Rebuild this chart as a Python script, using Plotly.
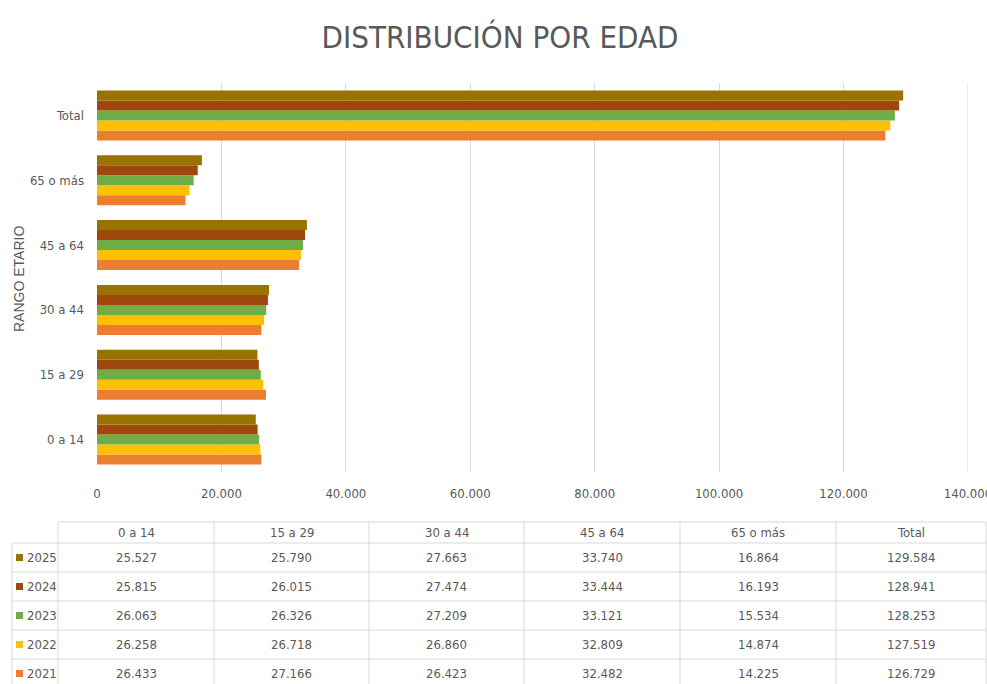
import plotly.graph_objects as go

categories = ["0 a 14", "15 a 29", "30 a 44", "45 a 64", "65 o más", "Total"]
years = ["2021", "2022", "2023", "2024", "2025"]
values = {
    "2021": [26433, 27166, 26423, 32482, 14225, 126729],
    "2022": [26258, 26718, 26860, 32809, 14874, 127519],
    "2023": [26063, 26326, 27209, 33121, 15534, 128253],
    "2024": [25815, 26015, 27474, 33444, 16193, 128941],
    "2025": [25527, 25790, 27663, 33740, 16864, 129584],
}
colors = {
    "2021": "#ED7D31",
    "2022": "#FFC000",
    "2023": "#70AD47",
    "2024": "#9E480E",
    "2025": "#997300",
}
x_ticks = [0, 20000, 40000, 60000, 80000, 100000, 120000, 140000]

FONT = "Liberation Sans Narrow, DejaVu Sans Condensed, Arial Narrow, sans-serif"
TXT = "#595959"

W, H = 987, 684
L, R, T, B = 97, 968, 83, 472

def px(x):
    return (x - L) / (R - L)

def py(y):
    return (B - y) / (B - T)

fig = go.Figure()
for yr in years:
    fig.add_trace(go.Bar(
        y=categories, x=values[yr], name=yr, orientation="h",
        marker=dict(color=colors[yr], line=dict(width=0)),
    ))

shapes = []
ann = []

# last gridline at the right edge of the plot area
shapes.append(dict(type="line", xref="x", yref="paper",
                   x0=x_ticks[-1], x1=x_ticks[-1], y0=0, y1=1, layer="below",
                   line=dict(color="#d9d9d9", width=1)))

# table geometry
col_edges = [58, 214, 369, 524, 680, 836, 986]
row_lines = [522, 543, 572, 601, 630, 659, 688]
line_col = "#d9d9d9"
for i, yv in enumerate(row_lines):
    x0 = 58 if i == 0 else 12
    shapes.append(dict(type="line", xref="paper", yref="paper",
                       x0=px(x0), x1=px(986), y0=py(yv), y1=py(yv),
                       line=dict(color=line_col, width=1)))
shapes.append(dict(type="line", xref="paper", yref="paper",
                   x0=px(12), x1=px(12), y0=py(543), y1=py(688),
                   line=dict(color=line_col, width=1)))
for xv in col_edges:
    shapes.append(dict(type="line", xref="paper", yref="paper",
                       x0=px(xv), x1=px(xv), y0=py(522), y1=py(688),
                       line=dict(color=line_col, width=1)))

for j, c in enumerate(categories):
    xc = (col_edges[j] + col_edges[j + 1]) / 2
    ann.append(dict(x=px(xc), y=py(532), xref="paper", yref="paper",
                    text=c, showarrow=False, xanchor="center", yanchor="middle",
                    font=dict(family=FONT, size=13, color=TXT)))

for i, yr in enumerate(reversed(years)):
    yc = (row_lines[i + 1] + row_lines[i + 2]) / 2
    shapes.append(dict(type="rect", xref="paper", yref="paper",
                       x0=px(16), x1=px(23), y0=py(yc - 3.5), y1=py(yc + 3.5),
                       fillcolor=colors[yr], line=dict(width=0)))
    ann.append(dict(x=px(25), y=py(yc), xref="paper", yref="paper",
                    text=yr, showarrow=False, xanchor="left", yanchor="middle",
                    font=dict(family=FONT, size=13, color=TXT)))
    for j, v in enumerate(values[yr]):
        xc = (col_edges[j] + col_edges[j + 1]) / 2
        ann.append(dict(x=px(xc), y=py(yc), xref="paper", yref="paper",
                        text=f"{v:,}".replace(",", "."), showarrow=False,
                        xanchor="center", yanchor="middle",
                        font=dict(family=FONT, size=13, color=TXT)))

ann.append(dict(x=px(19), y=py(279), xref="paper", yref="paper",
                text="RANGO ETARIO", textangle=-90, showarrow=False,
                xanchor="center", yanchor="middle",
                font=dict(family="Liberation Sans, Arial, sans-serif", size=14, color=TXT)))

fig.update_layout(
    width=W, height=H,
    margin=dict(l=L, r=W - R, t=T, b=H - B, autoexpand=False),
    paper_bgcolor="white", plot_bgcolor="white",
    barmode="group", bargap=0.23, bargroupgap=0,
    showlegend=False,
    separators=",.",
    title=dict(text="DISTRIBUCIÓN POR EDAD", x=500 / W, xanchor="center",
               y=1 - 37 / H, yanchor="middle", xref="container", yref="container",
               font=dict(family=FONT, size=31, color=TXT)),
    xaxis=dict(range=[0, 140010], tickvals=x_ticks, tickformat=",d",
               showgrid=True, gridcolor="#d9d9d9", gridwidth=1, zeroline=False,
               showline=False, ticks="", ticklabelstandoff=12,
               ticklabeloverflow="allow", automargin=False,
               tickfont=dict(family=FONT, size=13, color=TXT)),
    yaxis=dict(showgrid=False, zeroline=False, showline=False, ticks="",
               ticklabelstandoff=12, automargin=False,
               tickfont=dict(family=FONT, size=13, color=TXT)),
    shapes=shapes, annotations=ann,
)

fig.write_html("out.html", config={"displayModeBar": False},
               post_script="document.body.style.margin='0';")
